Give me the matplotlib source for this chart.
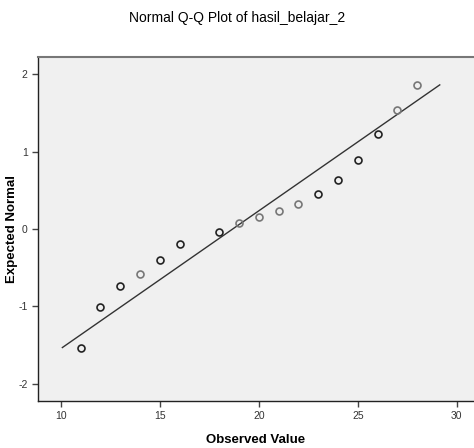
import numpy as np
import matplotlib
matplotlib.use('Agg')
import matplotlib.pyplot as plt

observed = [11, 12, 13, 14, 15, 16, 18, 19, 20, 21, 22, 23, 24, 25, 26, 27, 28]
expected = [-1.53, -1.01, -0.73, -0.58, -0.40, -0.20, -0.04, 0.08, 0.16,
            0.23, 0.32, 0.45, 0.63, 0.89, 1.23, 1.54, 1.86]
# how many cases sit on each point (overplotted points look darker)
freq = [2, 2, 2, 1, 2, 2, 2, 1, 1, 1, 1, 2, 2, 2, 2, 1, 1]
# reference line ends
line_x = [10.08, 29.14]
line_y = [-1.53, 1.86]

xticks = [10, 15, 20, 25, 30]
yticks = [-2, -1, 0, 1, 2]

plt.rcParams['font.family'] = ['Liberation Sans', 'DejaVu Sans']
plt.rcParams['axes.unicode_minus'] = False

fig = plt.figure(figsize=(4.74, 4.48), dpi=100)
ax = fig.add_axes([0.0802, 0.1049, 0.9198, 0.7679])
ax.set_facecolor('#f0f0f0')

ax.plot(line_x, line_y, color='#333333', lw=1.0, zorder=2)
for x, y, f in zip(observed, expected, freq):
    c = '#222222' if f > 1 else '#777777'
    ax.plot(x, y, 'o', ms=5, mfc='none', mec=c, mew=1.2, zorder=3)

ax.set_xlim(8.85, 30.87)
ax.set_ylim(-2.22, 2.22)
ax.set_xticks(xticks)
ax.set_yticks(yticks)
ax.tick_params(direction='out', length=4, width=1, color='#444444',
               labelsize=7.5, labelcolor='#333333')

for s in ['left', 'bottom']:
    ax.spines[s].set_color('#222222')
    ax.spines[s].set_linewidth(1.0)
ax.spines['top'].set_color('#777777')
ax.spines['top'].set_linewidth(1.5)
ax.spines['right'].set_visible(False)

ax.set_xlabel('Observed Value', fontsize=9.5, fontweight='bold')
ax.xaxis.set_label_coords(0.5, -0.095)
ax.set_ylabel('Expected Normal', fontsize=9.5, fontweight='bold')
ax.yaxis.set_label_coords(-0.045, 0.5)
fig.text(0.5, 0.96, 'Normal Q-Q Plot of hasil_belajar_2', ha='center', va='center',
         fontsize=10)

fig.savefig('out.png', dpi=100)
